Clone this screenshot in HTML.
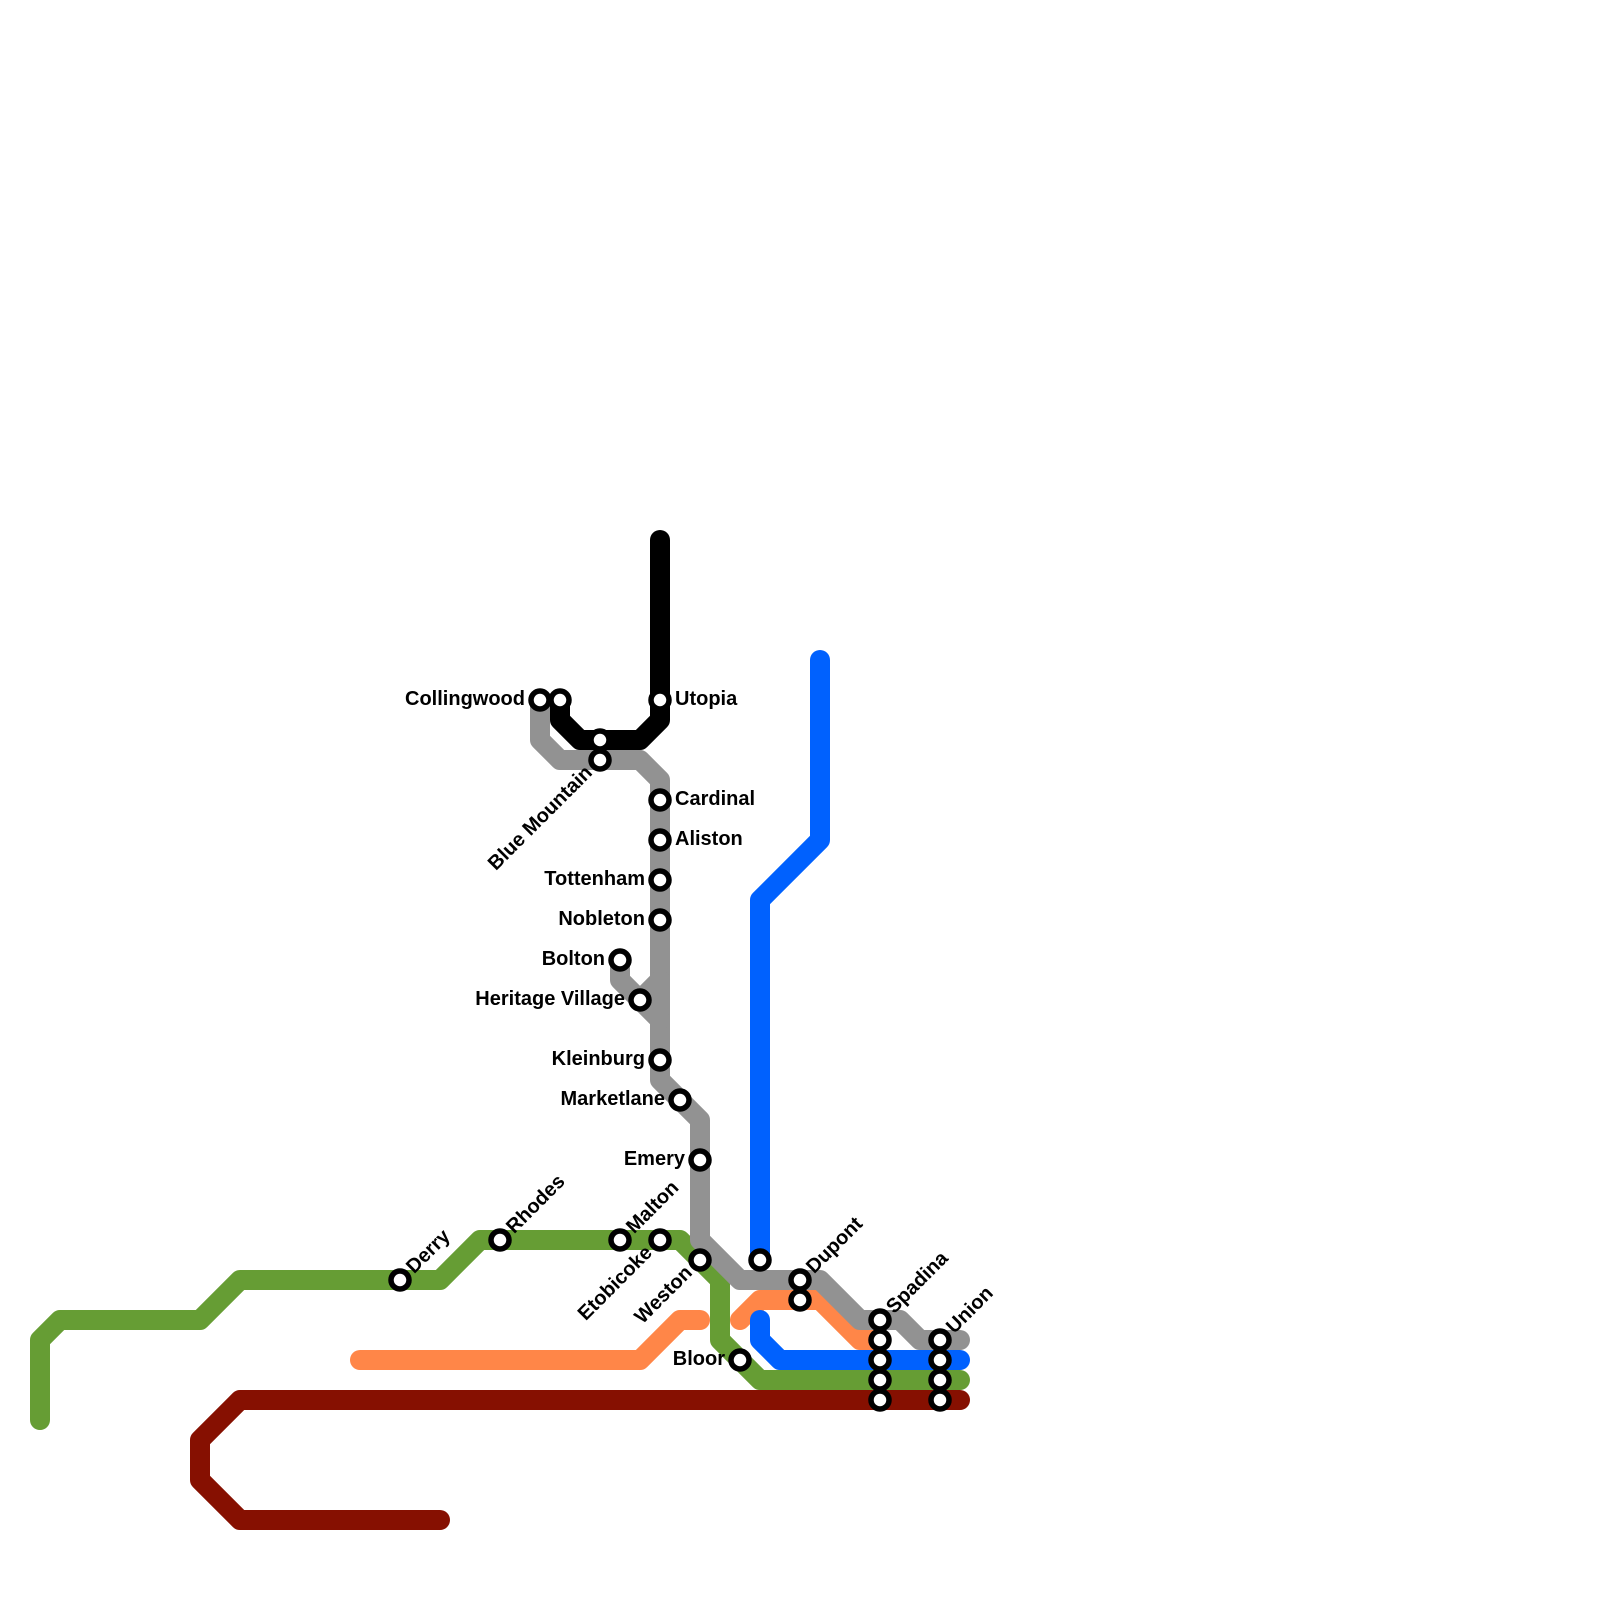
<!DOCTYPE html>
<html>
<head>
<meta charset="utf-8">
<style>
html,body{margin:0;padding:0;background:#fff;width:1600px;height:1600px;overflow:hidden}
svg{display:block}
.l{fill:none;stroke-width:20;stroke-linecap:round;stroke-linejoin:round}
circle{fill:#fff;stroke:#000;stroke-width:5.5}
text{font-family:"Liberation Sans",Arial,sans-serif;font-weight:700;font-size:20px;fill:#000}
.e{text-anchor:end}
</style>
</head>
<body>
<svg width="1600" height="1600" viewBox="0 0 1600 1600" xmlns="http://www.w3.org/2000/svg">
<polyline class="l" stroke="#000000" points="660,540 660,720 640,740 580,740 560,720 560,700"/>
<polyline class="l" stroke="#669D34" points="40,1420 40,1340 60,1320 200,1320 240,1280 440,1280 480,1240 680,1240 720,1280 720,1340 760,1380 960,1380"/>
<polyline class="l" stroke="#FF8648" points="360,1360 640,1360 680,1320 700,1320"/>
<polyline class="l" stroke="#FF8648" points="740,1320 760,1300 820,1300 860,1340 880,1340"/>
<polyline class="l" stroke="#0061FE" points="820,660 820,840 760,900 760,1260"/>
<polyline class="l" stroke="#0061FE" points="760,1320 760,1340 780,1360 960,1360"/>
<polyline class="l" stroke="#861001" points="440,1520 240,1520 200,1480 200,1440 240,1400 960,1400"/>
<polyline class="l" stroke="#929292" points="540,700 540,740 560,760 640,760 660,780 660,1080 700,1120 700,1240 740,1280 820,1280 860,1320 900,1320 920,1340 960,1340"/>
<polyline class="l" stroke="#929292" points="620,960 620,980 660,1020"/>
<polyline class="l" stroke="#929292" points="640,1000 660,980"/>

<circle cx="540" cy="700" r="9"/>
<circle cx="560" cy="700" r="9"/>
<circle cx="600" cy="740" r="9"/>
<circle cx="600" cy="760" r="9"/>
<circle cx="660" cy="700" r="9"/>
<circle cx="660" cy="800" r="9"/>
<circle cx="660" cy="840" r="9"/>
<circle cx="660" cy="880" r="9"/>
<circle cx="660" cy="920" r="9"/>
<circle cx="620" cy="960" r="9"/>
<circle cx="640" cy="1000" r="9"/>
<circle cx="660" cy="1060" r="9"/>
<circle cx="680" cy="1100" r="9"/>
<circle cx="700" cy="1160" r="9"/>
<circle cx="700" cy="1260" r="9"/>
<circle cx="660" cy="1240" r="9"/>
<circle cx="620" cy="1240" r="9"/>
<circle cx="500" cy="1240" r="9"/>
<circle cx="400" cy="1280" r="9"/>
<circle cx="740" cy="1360" r="9"/>
<circle cx="760" cy="1260" r="9"/>
<circle cx="800" cy="1280" r="9"/>
<circle cx="800" cy="1300" r="9"/>
<circle cx="880" cy="1320" r="9"/>
<circle cx="880" cy="1340" r="9"/>
<circle cx="880" cy="1360" r="9"/>
<circle cx="880" cy="1380" r="9"/>
<circle cx="880" cy="1400" r="9"/>
<circle cx="940" cy="1340" r="9"/>
<circle cx="940" cy="1360" r="9"/>
<circle cx="940" cy="1380" r="9"/>
<circle cx="940" cy="1400" r="9"/>

<text class="e" x="525" y="705">Collingwood</text>
<text x="675" y="705">Utopia</text>
<text x="675" y="805">Cardinal</text>
<text x="675" y="845">Aliston</text>
<text class="e" x="645" y="885">Tottenham</text>
<text class="e" x="645" y="925">Nobleton</text>
<text class="e" x="605" y="965">Bolton</text>
<text class="e" x="625" y="1005">Heritage Village</text>
<text class="e" x="645" y="1065">Kleinburg</text>
<text class="e" x="665" y="1105">Marketlane</text>
<text class="e" x="685" y="1165">Emery</text>
<text class="e" x="725" y="1365">Bloor</text>

<text class="e" transform="translate(600 760) rotate(-45)" x="-14.5" y="5">Blue Mountain</text>
<text class="e" transform="translate(660 1240) rotate(-45)" x="-14.5" y="5">Etobicoke</text>
<text class="e" transform="translate(700 1260) rotate(-45)" x="-14.5" y="5">Weston</text>
<text transform="translate(400 1280) rotate(-45)" x="14" y="6">Derry</text>
<text transform="translate(500 1240) rotate(-45)" x="14" y="6">Rhodes</text>
<text transform="translate(620 1240) rotate(-45)" x="14" y="6">Malton</text>
<text transform="translate(800 1280) rotate(-45)" x="14" y="6">Dupont</text>
<text transform="translate(880 1320) rotate(-45)" x="14" y="6">Spadina</text>
<text transform="translate(940 1340) rotate(-45)" x="14" y="6">Union</text>
</svg>
</body>
</html>
